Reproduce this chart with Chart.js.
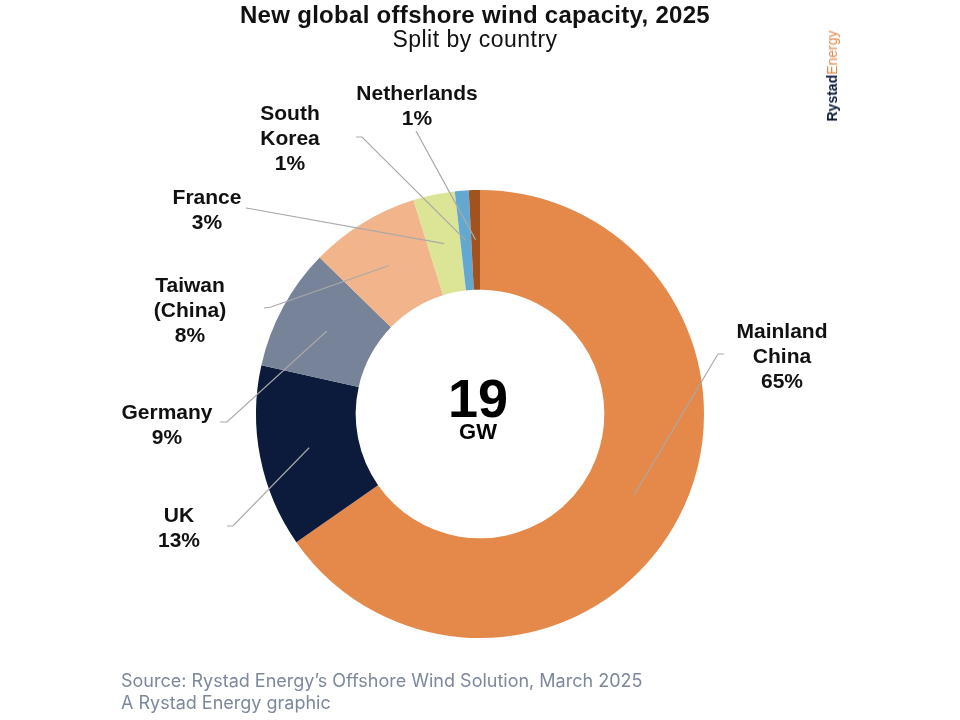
<!DOCTYPE html>
<html>
<head>
<meta charset="utf-8">
<script src="https://cdn.jsdelivr.net/npm/chart.js@4.4.1/dist/chart.umd.min.js"></script>
<style>
  html, body { margin: 0; padding: 0; background: #fff; }
  #wrap { position: relative; width: 960px; height: 720px; overflow: hidden; background: #fff; }
  #c { position: absolute; left: 0; top: 0; }
  .t { position: absolute; white-space: nowrap; }
  #title { left: 0; width: 950px; text-align: center; top: 3px; font: bold 24px "Liberation Sans", Arial, sans-serif; letter-spacing: 0.3px; line-height: 23px; color: #111; }
  #subtitle { left: 0; width: 950px; text-align: center; top: 28px; font: 23px "Liberation Sans", Arial, sans-serif; letter-spacing: 0.5px; line-height: 22px; color: #111; }
  #src { left: 121px; top: 670px; font: 18px Inter, "Liberation Sans", sans-serif; line-height: 22px; color: #7d889c; }
  #logo { left: 832px; top: 76px; transform: translate(-50%, -50%) rotate(-90deg); font: 14px "Liberation Sans", Arial, sans-serif; line-height: 14px; }
  #logo b { color: #0d1b3a; }
  #logo span { color: #e4894a; }
</style>
</head>
<body>
<div id="wrap">
  <canvas id="c" width="960" height="720"></canvas>
  <div class="t" id="title">New global offshore wind capacity, 2025</div>
  <div class="t" id="subtitle">Split by country</div>
  <div class="t" id="logo"><b>Rystad</b><span>Energy</span></div>
  <div class="t" id="src">Source: Rystad Energy’s Offshore Wind Solution, March 2025<br>A Rystad Energy graphic</div>
</div>
<script>
// ---- data ----
const countries = ['Mainland China', 'UK', 'Germany', 'Taiwan (China)', 'France', 'South Korea', 'Netherlands'];
const labelLines = [['Mainland', 'China'], ['UK'], ['Germany'], ['Taiwan', '(China)'], ['France'], ['South', 'Korea'], ['Netherlands']];
const shares = [65.3, 13.2, 8.8, 7.9, 3.0, 1.0, 0.8];
const totalGW = '19';
const totalUnit = 'GW';

// ---- styles / layout ----
const colors = ['#e4894a', '#0c1b3b', '#778398', '#f2b58b', '#dce496', '#62a8d3', '#a2521d'];
// label placement: text centre x, first baseline y, elbow point of leader, tick end
const labelPos = [
  { x: 782, y: 338, elbow: [718, 354], tick: [724, 354] },
  { x: 179, y: 522, elbow: [233, 526], tick: [227, 526] },
  { x: 167, y: 419, elbow: [227, 422], tick: [220, 422] },
  { x: 190, y: 292, elbow: [271, 307], tick: [264, 308] },
  { x: 207, y: 204, elbow: [252, 209], tick: [246, 208] },
  { x: 290, y: 120, elbow: [362, 137], tick: [356, 137] },
  { x: 417, y: 100, elbow: [416, 131], tick: null }
];
const lineH = 25;

const labelPlugin = {
  id: 'labelPlugin',
  afterDatasetsDraw(chart) {
    const ctx = chart.ctx;
    const meta = chart.getDatasetMeta(0);
    ctx.save();
    meta.data.forEach((arc, i) => {
      const p = arc.getProps(['x', 'y', 'startAngle', 'endAngle', 'innerRadius', 'outerRadius'], true);
      const mid = (p.startAngle + p.endAngle) / 2;
      const r = (p.innerRadius + p.outerRadius) / 2;
      const sx = p.x + Math.cos(mid) * r;
      const sy = p.y + Math.sin(mid) * r;
      const L = labelPos[i];
      ctx.strokeStyle = '#a9a9a9';
      ctx.lineWidth = 1.2;
      ctx.beginPath();
      ctx.moveTo(sx, sy);
      ctx.lineTo(L.elbow[0], L.elbow[1]);
      if (L.tick) ctx.lineTo(L.tick[0], L.tick[1]);
      ctx.stroke();
      ctx.fillStyle = '#111';
      ctx.font = 'bold 21px "Liberation Sans", Arial, sans-serif';
      ctx.textAlign = 'center';
      ctx.textBaseline = 'alphabetic';
      const lines = labelLines[i].concat([Math.round(shares[i]) + '%']);
      lines.forEach((t, k) => ctx.fillText(t, L.x, L.y + k * lineH));
    });
    // centre text
    const a0 = meta.data[0];
    ctx.fillStyle = '#000';
    ctx.textAlign = 'center';
    ctx.font = 'bold 54px "Liberation Sans", Arial, sans-serif';
    ctx.fillText(totalGW, a0.x - 2, a0.y + 3);
    ctx.font = 'bold 22px "Liberation Sans", Arial, sans-serif';
    ctx.fillText(totalUnit, a0.x - 2, a0.y + 25);
    ctx.restore();
  }
};

new Chart(document.getElementById('c'), {
  type: 'doughnut',
  data: {
    labels: countries,
    datasets: [{
      data: shares,
      backgroundColor: colors,
      borderWidth: 0,
      hoverOffset: 0
    }]
  },
  options: {
    responsive: false,
    animation: false,
    devicePixelRatio: 1,
    cutout: '55.5%',
    layout: { padding: { top: 190, bottom: 82, left: 0, right: 0 } },
    plugins: { legend: { display: false }, tooltip: { enabled: false }, title: { display: false } }
  },
  plugins: [labelPlugin]
});
</script>
</body>
</html>
